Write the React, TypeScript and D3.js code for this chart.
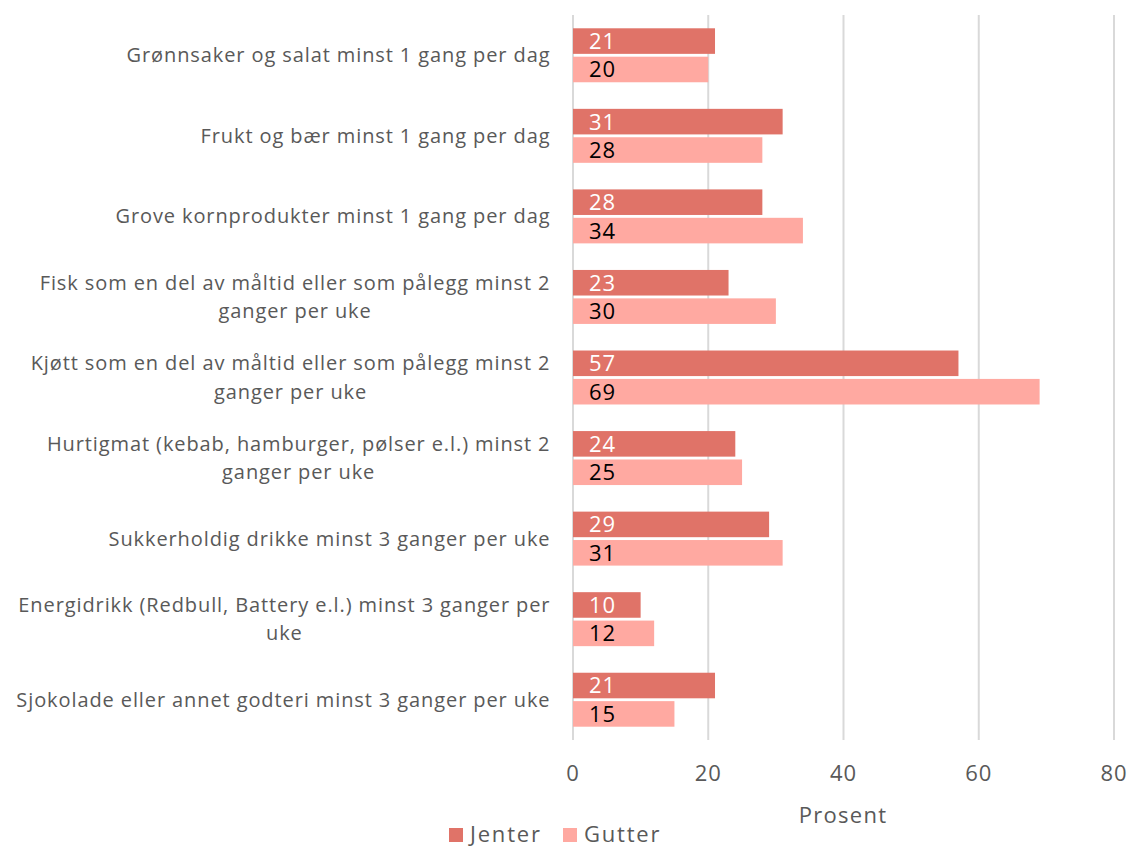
import React from "react";
import * as d3 from "d3";

const categories = [
  "Grønnsaker og salat minst 1 gang per dag",
  "Frukt og bær minst 1 gang per dag",
  "Grove kornprodukter minst 1 gang per dag",
  "Fisk som en del av måltid eller som pålegg minst 2\nganger per uke",
  "Kjøtt som en del av måltid eller som pålegg minst 2\nganger per uke",
  "Hurtigmat (kebab, hamburger, pølser e.l.) minst 2\nganger per uke",
  "Sukkerholdig drikke minst 3 ganger per uke",
  "Energidrikk (Redbull, Battery e.l.) minst 3 ganger per\nuke",
  "Sjokolade eller annet godteri minst 3 ganger per uke",
];
const jenter = [21, 31, 28, 23, 57, 24, 29, 10, 21];
const gutter = [20, 28, 34, 30, 69, 25, 31, 12, 15];
const seriesNames = ["Jenter", "Gutter"];
const xTicks = [0, 20, 40, 60, 80];
const xTitle = "Prosent";

const W = 1133;
const H = 846;
const FONT = "'Open Sans', sans-serif";
const COLORS = ["#E07368", "#FFA9A1"];
const TEXT = "#595959";
const LABEL_SIZE = 20;
const LABEL_LS = 0.9;

let ctx: CanvasRenderingContext2D | null = null;
function measure(s: string, size: number, ls: number) {
  if (!ctx) ctx = document.createElement("canvas").getContext("2d");
  if (!ctx) return s.length * (size * 0.5 + ls);
  ctx.font = `${size}px 'Open Sans'`;
  return ctx.measureText(s).width + ls * (s.length - 1);
}

export default function App() {
  const x = d3.scaleLinear().domain([0, 80]).range([573, 1114]);
  const y = d3.scaleBand<number>().domain(d3.range(categories.length)).range([15, 740]).paddingInner(0.33).paddingOuter(0.165);
  const sub = d3.scaleBand<number>().domain([0, 1]).range([0, y.bandwidth()]).paddingInner(0.1);
  const data = [jenter, gutter];
  const labelRight = 550;
  return (
    <svg width={W} height={H} style={{ position: "absolute", left: 0, top: 0, fontFamily: FONT }}>
      {xTicks.map((t) => (
        <line key={t} x1={x(t)} x2={x(t)} y1={15} y2={740} stroke="#D9D9D9" strokeWidth={2} />
      ))}
      {data.map((vals, s) =>
        vals.map((v, i) => (
          <g key={`${s}-${i}`}>
            <rect x={x(0)} y={(y(i) ?? 0) + (sub(s) ?? 0)} width={x(v) - x(0)} height={sub.bandwidth()} fill={COLORS[s]} />
            <text x={x(0) + 16} y={(y(i) ?? 0) + (sub(s) ?? 0) + sub.bandwidth() / 2} dy="0.36em" fontSize={22} letterSpacing={1} fill={s === 0 ? "#FFFFFF" : "#000000"}>
              {v}
            </text>
          </g>
        ))
      )}
      {categories.map((c, i) => {
        const lines = c.split("\n");
        const cy = (y(i) ?? 0) + y.bandwidth() / 2;
        const lh = 28.5;
        const maxW = Math.max(...lines.map((l) => measure(l, LABEL_SIZE, LABEL_LS)));
        const cx = labelRight - maxW / 2;
        return (
          <text key={i} fontSize={LABEL_SIZE} letterSpacing={LABEL_LS} fill={TEXT} textAnchor="middle">
            {lines.map((l, k) => (
              <tspan key={k} x={cx} y={cy + (k - (lines.length - 1) / 2) * lh} dy="0.35em">
                {l}
              </tspan>
            ))}
          </text>
        );
      })}
      {xTicks.map((t) => (
        <text key={t} x={x(t)} y={773} dy="0.35em" textAnchor="middle" fontSize={22} letterSpacing={1} fill={TEXT}>
          {t}
        </text>
      ))}
      <text x={843} y={815} dy="0.35em" textAnchor="middle" fontSize={22} letterSpacing={1.3} fill={TEXT}>
        {xTitle}
      </text>
      {seriesNames.map((n, s) => {
        const lx = s === 0 ? 449 : 563;
        return (
          <g key={n}>
            <rect x={lx} y={828} width={14} height={14} fill={COLORS[s]} />
            <text x={lx + 21} y={834} dy="0.35em" fontSize={22} letterSpacing={1.8} fill={TEXT}>
              {n}
            </text>
          </g>
        );
      })}
    </svg>
  );
}
